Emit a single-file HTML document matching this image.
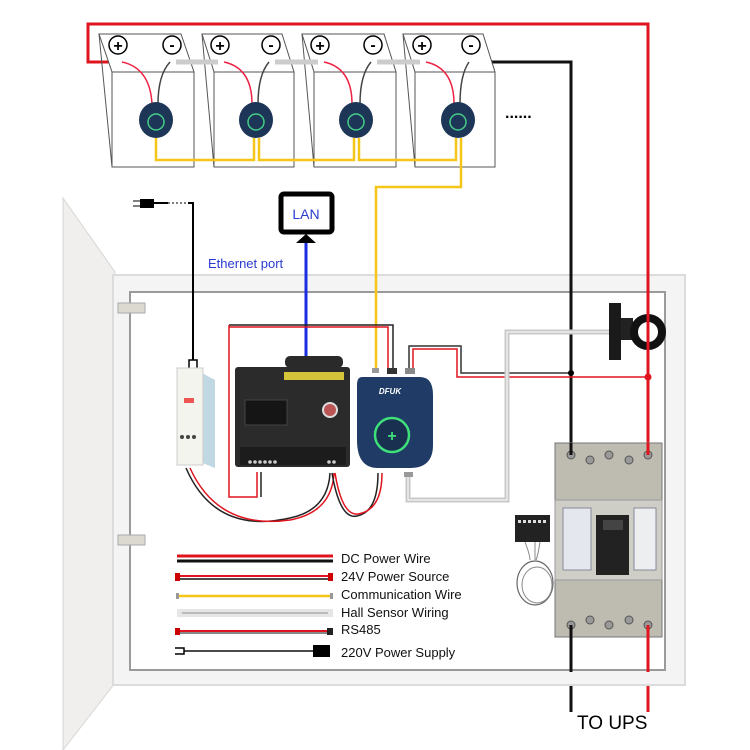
<!DOCTYPE html>
<html><head><meta charset="utf-8"><style>
html,body{margin:0;padding:0;background:#fff;}
svg{display:block;font-family:"Liberation Sans",sans-serif;}
</style></head><body>
<svg width="750" height="750" viewBox="0 0 750 750" xmlns="http://www.w3.org/2000/svg">
<path d="M115,62 H88 V24 H648 V712" fill="none" stroke="#e0141e" stroke-width="3"/>
<path d="M473,62 H571 V712" fill="none" stroke="#111" stroke-width="3"/>
<polygon points="63,198 115,272 115,683 63,750" fill="#f1efee" stroke="#d8d6d4" stroke-width="1"/>
<rect x="113" y="275" width="572" height="410" fill="#f4f4f4" stroke="#dcdcdc" stroke-width="2"/>
<rect x="130" y="292" width="535" height="378" fill="#fff" stroke="#9a9a9a" stroke-width="2"/>
<rect x="118" y="303" width="27" height="10" fill="#dcdad0" stroke="#aaa"/>
<rect x="118" y="535" width="27" height="10" fill="#dcdad0" stroke="#aaa"/>
<line x1="648" y1="270" x2="648" y2="672" stroke="#e0141e" stroke-width="3"/>
<line x1="571" y1="270" x2="571" y2="672" stroke="#111" stroke-width="3"/>

<g fill="#fff" stroke="#555" stroke-width="1">
<polygon points="99,34 181,34 194,72 194,167 112,167 112,72"/><line x1="112" y1="72" x2="194" y2="72"/><line x1="99" y1="34" x2="112" y2="167"/>
<polygon points="202,34 282,34 294,72 294,167 214,167 214,72"/><line x1="214" y1="72" x2="294" y2="72"/><line x1="202" y1="34" x2="214" y2="167"/>
<polygon points="302,34 384,34 396,72 396,167 314,167 314,72"/><line x1="314" y1="72" x2="396" y2="72"/><line x1="302" y1="34" x2="314" y2="167"/>
<polygon points="403,34 483,34 495,72 495,167 415,167 415,72"/><line x1="415" y1="72" x2="495" y2="72"/><line x1="403" y1="34" x2="415" y2="167"/>
</g>
<g font-size="16" font-weight="bold" text-anchor="middle">
<g fill="#fff" stroke="#000" stroke-width="1.5">
<circle cx="118" cy="45" r="9"/><circle cx="172" cy="45" r="9"/>
<circle cx="220" cy="45" r="9"/><circle cx="271" cy="45" r="9"/>
<circle cx="320" cy="45" r="9"/><circle cx="373" cy="45" r="9"/>
<circle cx="422" cy="45" r="9"/><circle cx="471" cy="45" r="9"/>
</g>
<g fill="#000"><text x="118" y="51">+</text><text x="172" y="50">-</text><text x="220" y="51">+</text><text x="271" y="50">-</text><text x="320" y="51">+</text><text x="373" y="50">-</text><text x="422" y="51">+</text><text x="471" y="50">-</text></g>
</g>
<g stroke="#ccc" stroke-width="5"><line x1="176" y1="62" x2="218" y2="62"/><line x1="275" y1="62" x2="318" y2="62"/><line x1="377" y1="62" x2="420" y2="62"/></g>
<g fill="none" stroke-width="1.5">
<path d="M122,62 Q150,68 152,104" stroke="#e24"/><path d="M170,62 Q158,75 158,104" stroke="#444"/>
<path d="M224,62 Q252,68 252,104" stroke="#e24"/><path d="M269,62 Q258,75 258,104" stroke="#444"/>
<path d="M324,62 Q352,68 352,104" stroke="#e24"/><path d="M371,62 Q360,75 360,104" stroke="#444"/>
<path d="M426,62 Q454,68 454,104" stroke="#e24"/><path d="M469,62 Q460,75 460,104" stroke="#444"/>
</g>
<g>
<ellipse cx="156" cy="120" rx="17" ry="18" fill="#1d3557"/><circle cx="156" cy="122" r="8" fill="none" stroke="#4c8" stroke-width="1.5"/>
<ellipse cx="256" cy="120" rx="17" ry="18" fill="#1d3557"/><circle cx="256" cy="122" r="8" fill="none" stroke="#4c8" stroke-width="1.5"/>
<ellipse cx="356" cy="120" rx="17" ry="18" fill="#1d3557"/><circle cx="356" cy="122" r="8" fill="none" stroke="#4c8" stroke-width="1.5"/>
<ellipse cx="458" cy="120" rx="17" ry="18" fill="#1d3557"/><circle cx="458" cy="122" r="8" fill="none" stroke="#4c8" stroke-width="1.5"/>
</g>
<text x="505" y="118" font-size="16" font-weight="bold">......</text>
<g fill="none" stroke="#f5c518" stroke-width="2.5">
<path d="M156,138 V160 H254 V138"/><path d="M259,138 V160 H354 V138"/><path d="M359,138 V160 H456 V138"/>
<path d="M461,138 V187 H376 V368"/>
</g>
<rect x="140" y="199" width="14" height="9" fill="#000"/><line x1="133" y1="201" x2="140" y2="201" stroke="#000"/><line x1="133" y1="206" x2="140" y2="206" stroke="#000"/>
<line x1="154" y1="203" x2="168" y2="203" stroke="#000" stroke-width="2"/>
<line x1="168" y1="203" x2="188" y2="203" stroke="#000" stroke-width="1" stroke-dasharray="2,2"/>
<path d="M188,203 H193 V360" fill="none" stroke="#000" stroke-width="2"/>
<path d="M189,372 V360 H197 V372" fill="none" stroke="#000" stroke-width="1.5"/>
<rect x="281" y="194" width="51" height="38" rx="3" fill="#fff" stroke="#000" stroke-width="5"/>
<text x="306" y="219" font-size="14" fill="#2a3bd0" text-anchor="middle">LAN</text>
<polygon points="296,243 306,234 316,243" fill="#000"/>
<line x1="306" y1="243" x2="306" y2="360" stroke="#1a2ee0" stroke-width="3"/>
<text x="208" y="268" font-size="13" fill="#2a3bd0">Ethernet port</text>

<path d="M229,325 H393 V370" fill="none" stroke="#222" stroke-width="1.5"/>
<path d="M229,327 H388 V370 M229,325 V497 H257 V472" fill="none" stroke="#e0141e" stroke-width="1.5"/>
<path d="M261,472 V497" stroke="#222" stroke-width="1.5"/>
<path d="M186,468 Q215,535 290,518 Q328,510 330,473" fill="none" stroke="#222" stroke-width="1.5"/>
<path d="M190,468 Q218,530 290,520 Q332,512 334,473" fill="none" stroke="#e0141e" stroke-width="1.5"/>
<path d="M332,473 Q340,520 357,516 Q378,512 378,473" fill="none" stroke="#222" stroke-width="1.5"/>
<path d="M335,473 Q342,516 358,514 Q382,510 382,473" fill="none" stroke="#e0141e" stroke-width="1.5"/>
<path d="M409,370 V346 H461 V373 H571" fill="none" stroke="#333" stroke-width="1.5"/>
<path d="M413,370 V349 H457 V377 H648" fill="none" stroke="#e0141e" stroke-width="1.5"/>
<circle cx="571" cy="373" r="3" fill="#000"/><circle cx="648" cy="377" r="3.5" fill="#e0141e"/>
<path d="M408,476 V500 H507 V332 H612" fill="none" stroke="#c8c8c8" stroke-width="5"/>
<path d="M408,476 V500 H507 V332 H612" fill="none" stroke="#eee" stroke-width="1.5"/>
<rect x="609" y="303" width="12" height="57" fill="#1a1a1a"/>
<rect x="621" y="318" width="12" height="22" fill="#222"/>
<circle cx="648" cy="332" r="14" fill="none" stroke="#111" stroke-width="8"/>
<line x1="648" y1="300" x2="648" y2="360" stroke="#e0141e" stroke-width="3"/>

<polygon points="200,372 215,380 215,468 200,462" fill="#bfd8e2"/>
<rect x="177" y="368" width="26" height="97" fill="#f4f4ee" stroke="#ccc"/>
<rect x="184" y="398" width="10" height="5" fill="#e55"/>
<g fill="#444"><circle cx="182" cy="437" r="2"/><circle cx="188" cy="437" r="2"/><circle cx="194" cy="437" r="2"/></g>
<rect x="285" y="356" width="58" height="12" rx="5" fill="#2a2a2a"/>
<rect x="235" y="367" width="115" height="100" rx="3" fill="#2b2b2b"/>
<rect x="284" y="372" width="60" height="8" fill="#d6c43a"/>
<rect x="245" y="400" width="42" height="25" fill="#151515" stroke="#444"/>
<circle cx="330" cy="410" r="7" fill="#b55" stroke="#ddd" stroke-width="2"/>
<rect x="240" y="447" width="106" height="18" fill="#1c1c1c"/>
<g fill="#ccc"><circle cx="250" cy="462" r="1.8"/><circle cx="255" cy="462" r="1.8"/><circle cx="260" cy="462" r="1.8"/><circle cx="265" cy="462" r="1.8"/><circle cx="270" cy="462" r="1.8"/><circle cx="275" cy="462" r="1.8"/><circle cx="329" cy="462" r="1.8"/><circle cx="334" cy="462" r="1.8"/></g>
<rect x="372" y="368" width="7" height="5" fill="#999"/><rect x="387" y="368" width="10" height="6" fill="#333"/><rect x="405" y="368" width="10" height="6" fill="#888"/>
<path d="M362,377 H420 Q433,377 433,395 V445 Q433,468 410,468 H378 Q357,468 357,440 V385 Q357,377 362,377Z" fill="#1f3b66"/>
<text x="390" y="394" font-size="8" font-weight="bold" font-style="italic" fill="#fff" text-anchor="middle">DFUK</text>
<circle cx="392" cy="435" r="17" fill="#1a3050" stroke="#3ee07a" stroke-width="2.5"/>
<text x="392" y="441" font-size="16" font-weight="bold" fill="#3ee07a" text-anchor="middle">+</text>
<rect x="404" y="472" width="9" height="5" fill="#999"/>

<rect x="555" y="443" width="107" height="194" fill="#bebcb0" stroke="#777"/>
<rect x="555" y="500" width="107" height="80" fill="#cfcec6" stroke="#999"/>
<rect x="563" y="508" width="28" height="62" fill="#e4e8ee" stroke="#889"/>
<rect x="596" y="515" width="33" height="60" fill="#222"/>
<rect x="603" y="520" width="20" height="10" fill="#444"/>
<rect x="634" y="508" width="22" height="62" fill="#eceef0" stroke="#889"/>
<g fill="#999" stroke="#555"><circle cx="571" cy="455" r="4"/><circle cx="609" cy="455" r="4"/><circle cx="648" cy="455" r="4"/><circle cx="590" cy="460" r="4"/><circle cx="629" cy="460" r="4"/>
<circle cx="571" cy="625" r="4"/><circle cx="609" cy="625" r="4"/><circle cx="648" cy="625" r="4"/><circle cx="590" cy="620" r="4"/><circle cx="629" cy="620" r="4"/></g>
<line x1="571" y1="443" x2="571" y2="455" stroke="#111" stroke-width="3"/><line x1="648" y1="443" x2="648" y2="455" stroke="#e0141e" stroke-width="3"/>
<line x1="571" y1="625" x2="571" y2="670" stroke="#111" stroke-width="3"/><line x1="648" y1="625" x2="648" y2="670" stroke="#e0141e" stroke-width="3"/>
<rect x="515" y="515" width="35" height="27" fill="#222"/>
<g fill="#ddd"><rect x="518" y="520" width="3" height="3"/><rect x="523" y="520" width="3" height="3"/><rect x="528" y="520" width="3" height="3"/><rect x="533" y="520" width="3" height="3"/><rect x="538" y="520" width="3" height="3"/><rect x="543" y="520" width="3" height="3"/></g>
<path d="M525,542 Q530,555 530,560 M535,542 V560 M540,542 Q538,555 536,560" stroke="#888" fill="none"/>
<ellipse cx="535" cy="583" rx="18" ry="22" fill="none" stroke="#666" stroke-width="1.2"/>
<ellipse cx="537" cy="585" rx="15" ry="18" fill="none" stroke="#888" stroke-width="1"/>

<line x1="177" y1="556" x2="333" y2="556" stroke="#e0141e" stroke-width="3"/>
<line x1="177" y1="561" x2="333" y2="561" stroke="#111" stroke-width="3"/>
<line x1="177" y1="576" x2="330" y2="576" stroke="#e0141e" stroke-width="2"/><line x1="177" y1="579" x2="330" y2="579" stroke="#111" stroke-width="1.5"/>
<rect x="175" y="573" width="5" height="8" fill="#c00"/><rect x="328" y="573" width="5" height="8" fill="#c00"/>
<line x1="177" y1="596" x2="332" y2="596" stroke="#f5c518" stroke-width="2.5"/>
<rect x="176" y="593" width="3" height="6" fill="#999"/><rect x="330" y="593" width="3" height="6" fill="#999"/>
<rect x="177" y="609" width="156" height="8" fill="#e6e6e6"/><line x1="182" y1="613" x2="328" y2="613" stroke="#bbb" stroke-width="2"/>
<line x1="177" y1="631" x2="330" y2="631" stroke="#e0141e" stroke-width="2"/><line x1="177" y1="633" x2="330" y2="633" stroke="#111" stroke-width="1"/>
<rect x="175" y="628" width="5" height="7" fill="#c00"/><rect x="327" y="628" width="6" height="7" fill="#222"/>
<line x1="184" y1="651" x2="313" y2="651" stroke="#111" stroke-width="1.5"/>
<rect x="313" y="645" width="17" height="12" fill="#000"/>
<path d="M175,648 H184 V654 H175" fill="none" stroke="#000" stroke-width="1.5"/>
<g font-size="13" fill="#111">
<text x="341" y="563">DC Power Wire</text>
<text x="341" y="581">24V Power Source</text>
<text x="341" y="599">Communication Wire</text>
<text x="341" y="617">Hall Sensor Wiring</text>
<text x="341" y="634">RS485</text>
<text x="341" y="657">220V Power Supply</text>
</g>
<text x="577" y="729" font-size="19" fill="#000">TO UPS</text>
</svg>
</body></html>
